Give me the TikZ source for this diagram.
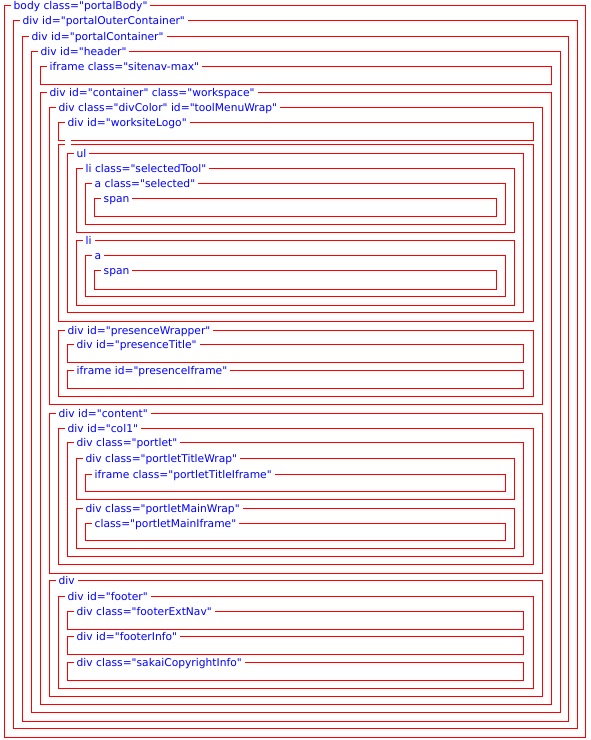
\documentclass[tikz,border=0pt]{standalone}
\usepackage{fontspec}
\newfontfamily\tagfont{DejaVu Sans}
\usepackage{tikz}
\usetikzlibrary{calc}
\usepackage{xcolor}

\begin{document}
\begin{tikzpicture}[x=1bp,y=-1bp,
  box/.style={draw=red,line width=1bp},
  tag/.style={fill=white,text=blue,inner xsep=3bp,inner ysep=0.5bp,anchor=base west,
    font=\tagfont\fontsize{10.7bp}{12bp}\selectfont}]
\useasboundingbox (0,0) rectangle (591,740);

% depth / top / bottom / label / name
\foreach \d/\t/\b/\txt/\name in {
  0/5.5/737.5/body class="portalBody"/body,
  1/20.5/728.5/div id="portalOuterContainer"/outer,
  2/36.5/721.5/div id="portalContainer"/portal,
  3/51.5/712.5/div id="header"/header,
  4/66.5/84.5/iframe class="sitenav-max"/sitenav,
  4/92.5/704.5/div id="container" class="workspace"/container,
  5/107.5/404.5/div class="divColor" id="toolMenuWrap"/toolmenu,
  6/122.5/140.5/div id="worksiteLogo"/logo,
  6/144.5/321.5//tools,
  7/153.5/312.5/ul/ul,
  8/168.5/232.5/li class="selectedTool"/liselected,
  9/183.5/224.5/a class="selected"/aselected,
  10/198.5/216.5/span/spanselected,
  8/240.5/305.5/li/li,
  9/255.5/296.5/a/a,
  10/270.5/289.5/span/span,
  6/330.5/396.5/div id="presenceWrapper"/presence,
  7/344.5/362.5/div id="presenceTitle"/presencetitle,
  7/370.5/388.5/iframe id="presenceIframe"/presenceiframe,
  5/413.5/573.5/div id="content"/content,
  6/428.5/564.5/div id="col1"/col,
  7/442.5/556.5/div class="portlet"/portlet,
  8/458.5/499.5/div class="portletTitleWrap"/titlewrap,
  9/474.5/491.5/iframe class="portletTitleIframe"/titleiframe,
  8/508.5/548.5/div class="portletMainWrap"/mainwrap,
  9/523.5/540.5/class="portletMainIframe"/mainiframe,
  5/580.5/696.5/div/footerwrap,
  6/596.5/688.5/div id="footer"/footer,
  7/611.5/629.5/div class="footerExtNav"/extnav,
  7/636.5/654.5/div id="footerInfo"/footerinfo,
  7/662.5/680.5/div class="sakaiCopyrightInfo"/copyright}
{
  \pgfmathsetmacro\r{{585.5,577.5,568.5,560.5,551.5,542.5,533.5,523.5,514.5,505.5,496.5}[\d]}
  \draw[box] ({4.5+9*\d},\t) rectangle (\r,\b);
  \node[tag] (\name) at ({4.5+9*\d+6},{\t+4.3}) {\strut\txt};
}

\end{tikzpicture}
\end{document}
